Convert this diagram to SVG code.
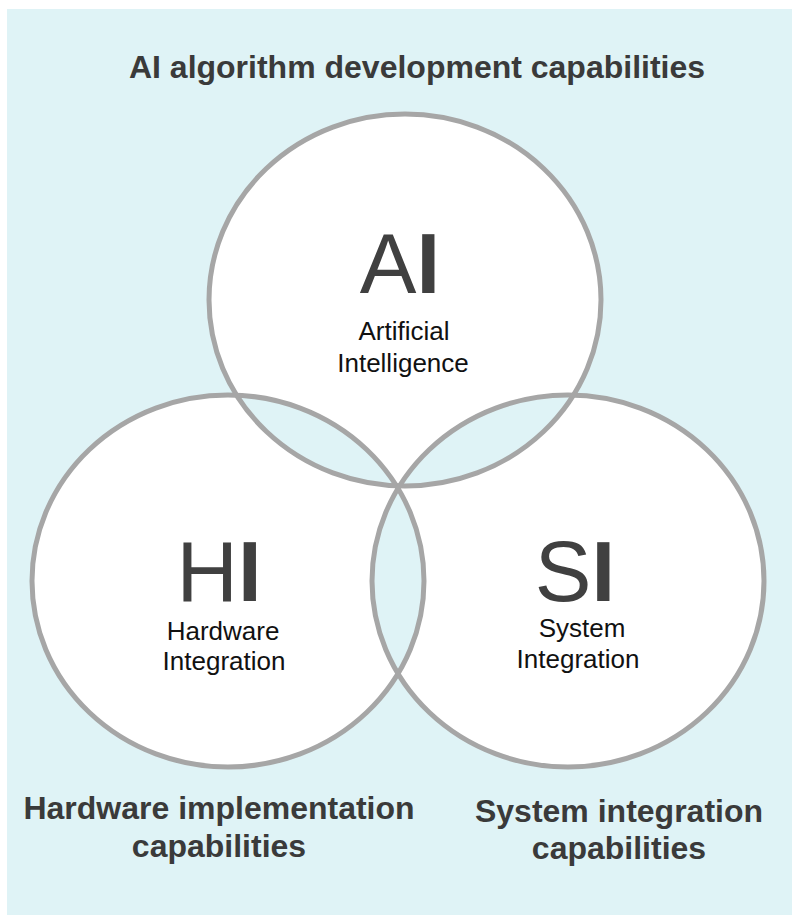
<svg xmlns="http://www.w3.org/2000/svg" width="800" height="916" viewBox="0 0 800 916">
  <style>
    .bg { fill: #DFF3F6; }
    .fillw { fill: #FFFFFF; }
    .lens { fill: #DFF3F6; }
    .ring { fill: none; stroke: #A6A6A6; stroke-width: 5; }
    .big { font-family: "Liberation Sans", Arial, sans-serif; font-size: 85px; fill: #404040; text-anchor: middle; }
    .big .b { font-weight: bold; }
    .sub { font-family: "Liberation Sans", Arial, sans-serif; font-size: 26px; fill: #111111; text-anchor: middle; }
    .head { font-family: "Liberation Sans", Arial, sans-serif; font-size: 32px; font-weight: bold; fill: #3A3A3A; text-anchor: middle; }
  </style>
  <defs>
    <ellipse id="eAI" cx="405" cy="300" rx="196" ry="186"/>
    <ellipse id="eHI" cx="228" cy="581" rx="196" ry="186"/>
    <ellipse id="eSI" cx="568" cy="581" rx="196" ry="186"/>
    <clipPath id="cAI"><use href="#eAI"/></clipPath>
    <clipPath id="cHI"><use href="#eHI"/></clipPath>
  </defs>

  <rect class="bg" x="7" y="9" width="785" height="906"/>

  <g id="fills">
    <use href="#eAI" class="fillw"/>
    <use href="#eHI" class="fillw"/>
    <use href="#eSI" class="fillw"/>
  </g>

  <g id="overlaps">
    <use href="#eHI" class="lens" clip-path="url(#cAI)"/>
    <use href="#eSI" class="lens" clip-path="url(#cAI)"/>
    <use href="#eSI" class="lens" clip-path="url(#cHI)"/>
  </g>

  <g id="node-ai">
    <use href="#eAI" class="ring"/>
    <text class="big" x="400" y="293">A<tspan class="b">I</tspan></text>
    <text class="sub" x="404" y="340">Artificial</text>
    <text class="sub" x="403" y="372">Intelligence</text>
  </g>

  <g id="node-hi">
    <use href="#eHI" class="ring"/>
    <text class="big" x="219" y="601">H<tspan class="b">I</tspan></text>
    <text class="sub" x="223" y="640">Hardware</text>
    <text class="sub" x="224" y="670">Integration</text>
  </g>

  <g id="node-si">
    <use href="#eSI" class="ring"/>
    <text class="big" x="575" y="601">S<tspan class="b">I</tspan></text>
    <text class="sub" x="582" y="637">System</text>
    <text class="sub" x="578" y="668">Integration</text>
  </g>

  <g id="labels">
    <text class="head" x="417" y="78">AI algorithm development capabilities</text>
    <text class="head" x="219" y="819">Hardware implementation</text>
    <text class="head" x="219" y="857">capabilities</text>
    <text class="head" x="619" y="822">System integration</text>
    <text class="head" x="619" y="859">capabilities</text>
  </g>

  <g id="connectors"></g>
</svg>
